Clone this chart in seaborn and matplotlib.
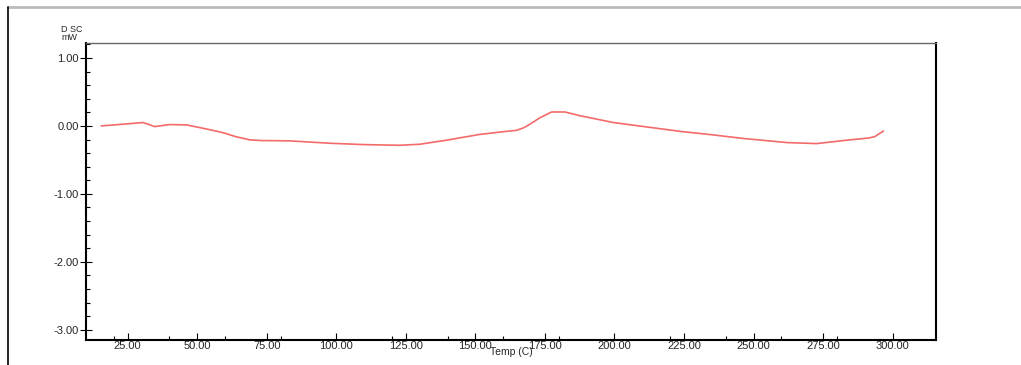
import matplotlib
matplotlib.use("Agg")
import matplotlib.pyplot as plt
import seaborn as sns
import numpy as np
import pandas as pd
from matplotlib.lines import Line2D
from matplotlib.ticker import MultipleLocator, FixedLocator

# Data
temp = [15.5, 23.3, 30.5, 32.3, 34.7, 40.1, 46.1, 50.9, 55.0, 59.3, 64.0, 68.9, 73.0,
        83.3, 97.7, 110.0, 122.8, 130.0, 139.6, 151.6, 160.0, 164.8, 167.5, 169.6,
        173.2, 177.4, 182.2, 187.6, 199.6, 211.6, 223.6, 235.0, 246.4, 262.0, 272.7,
        283.5, 291.0, 293.5, 296.7]
dsc = [0.0, 0.025, 0.05, 0.025, -0.01, 0.02, 0.015, -0.025, -0.06, -0.10, -0.16, -0.205,
       -0.215, -0.22, -0.255, -0.275, -0.285, -0.27, -0.21, -0.125, -0.085, -0.065,
       -0.025, 0.025, 0.12, 0.205, 0.205, 0.15, 0.05, -0.015, -0.08, -0.13, -0.185,
       -0.245, -0.26, -0.21, -0.18, -0.16, -0.075]
x_ticks = [25, 50, 75, 100, 125, 150, 175, 200, 225, 250, 275, 300]
y_ticks = [1.0, 0.0, -1.0, -2.0, -3.0]

sns.set_theme(style="white")
plt.rcParams['font.family'] = ['Liberation Sans', 'DejaVu Sans']

fig = plt.figure(figsize=(10.21, 3.65), dpi=100)
ax = fig.add_axes([86/1021, 25/365, 850/1021, 297/365])

df = pd.DataFrame({"Temp": temp, "DSC": dsc})
sns.lineplot(data=df, x="Temp", y="DSC", ax=ax, color="#f46a6a", linewidth=1.2)

ax.set_xlim(10, 315.6)
ax.set_ylim(-3.15, 1.22)
ax.xaxis.set_major_locator(FixedLocator(x_ticks))
ax.xaxis.set_minor_locator(MultipleLocator(20))
ax.yaxis.set_major_locator(FixedLocator(y_ticks))
ax.yaxis.set_minor_locator(MultipleLocator(0.2))
ax.set_xticklabels([f"{v:.2f}" for v in x_ticks])
ax.set_yticklabels([f"{v:.2f}" for v in y_ticks])

ax.tick_params(axis='x', which='major', direction='in', length=5, width=0.8,
               labelsize=8, pad=1, color='black', bottom=True)
ax.tick_params(axis='x', which='minor', direction='in', length=3, width=0.8,
               color='black', bottom=True)
ax.tick_params(axis='y', which='major', direction='inout', length=8, width=0.8,
               labelsize=8, pad=1, color='black', left=True)
ax.tick_params(axis='y', which='minor', direction='in', length=3, width=0.8,
               color='black', left=True)

ax.set_xlabel("Temp (C)", fontsize=7.5, labelpad=-3)
ax.set_ylabel("")
ax.text(-0.029, 1.003, "D SC\nmW", transform=ax.transAxes, fontsize=6.5,
        ha='left', va='bottom', linespacing=0.85)

for side in ['left', 'bottom', 'right']:
    ax.spines[side].set_color('black')
    ax.spines[side].set_linewidth(1.5)
ax.spines['top'].set_color('#666666')
ax.spines['top'].set_linewidth(1.0)
ax.grid(False)

# Outer frame lines of the original page
fig.add_artist(Line2D([8/1021, 1.0], [1 - 7/365, 1 - 7/365], transform=fig.transFigure,
                      color='#bbbbbb', linewidth=2.0))
fig.add_artist(Line2D([8/1021, 8/1021], [0.0, 1 - 7/365], transform=fig.transFigure,
                      color='black', linewidth=1.2))

fig.savefig("out.png", dpi=100)
